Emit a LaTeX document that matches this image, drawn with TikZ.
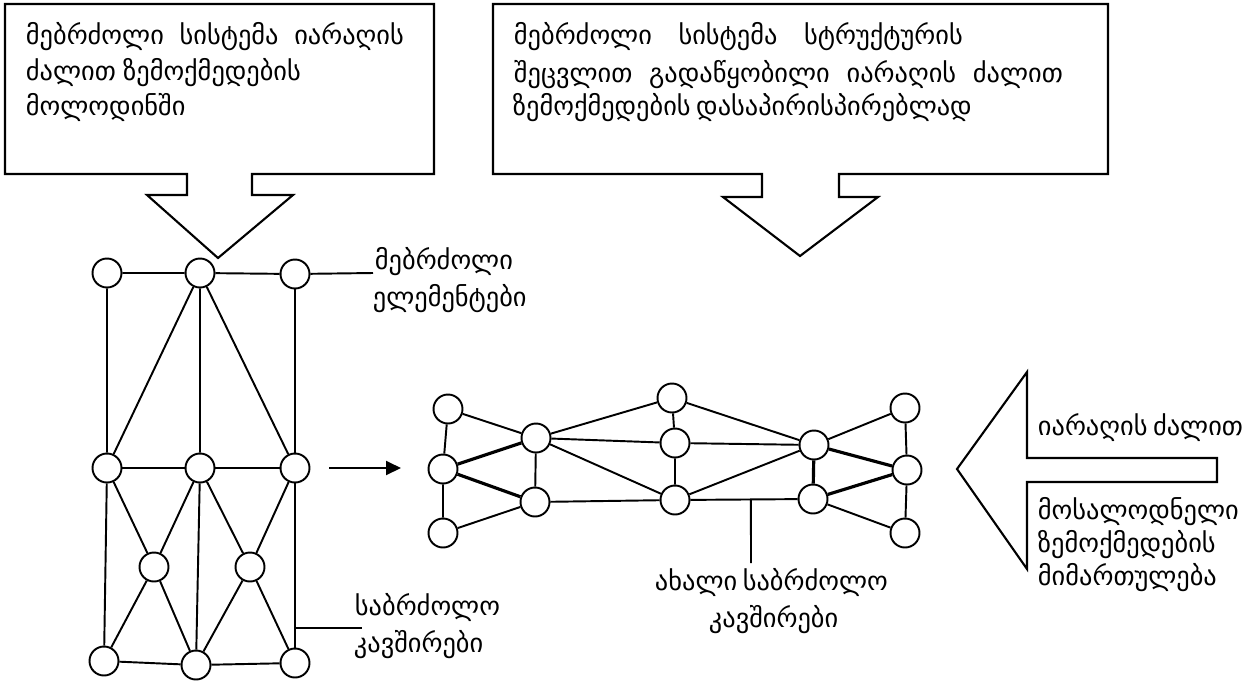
\documentclass[tikz,border=0pt]{standalone}
\usepackage{fontspec}
\setmainfont{DejaVu Sans}
\usetikzlibrary{
  calc, % For coordinates on links
  arrows.meta % For arrow tips
}

% line stretched to a given width
\newcommand{\jline}[2]{\makebox[#1][s]{#2}}

\begin{document}
\begin{tikzpicture}[
      x=0.02cm, y=-0.02cm, % one unit = one pixel of the layout
      line width=1.1pt, % Default line thickness
      >=Triangle, % Default arrow tip
      el/.style={circle, draw, fill=white, minimum size=0.58cm, inner sep=0pt}, % combat element
      heavy/.style={line width=1.8pt}, % reinforced link
      lbl/.style={font=\fontsize{15}{18}\selectfont, inner sep=0pt, anchor=west}, % text lines
      callout/.style={draw, line width=1.2pt, line join=miter}, % box arrows
    ]

    \useasboundingbox (0,0) rectangle (1254,680);

    % Box 1 with arrow down
    \draw[callout] (5,4) -- (434,4) -- (434,174) -- (252,174) -- (252,195) -- (293,195)
      -- (218,258) -- (147,195) -- (187,195) -- (187,174) -- (5,174) -- cycle;
    \node[lbl] (boxa1) at (25,37) {\jline{7.56cm}{მებრძოლი სისტემა იარაღის}};
    \node[lbl] (boxa2) at (25,73) {\jline{5.5cm}{ძალით ზემოქმედების}};
    \node[lbl] (boxa3) at (25,107) {მოლოდინში};

    % Box 2 with arrow down
    \draw[callout] (493,4) -- (1108,4) -- (1108,174) -- (839,174) -- (839,197) -- (878,197)
      -- (800,256) -- (723,197) -- (762,197) -- (762,174) -- (493,174) -- cycle;
    \node[lbl] (boxb1) at (513,37) {\jline{8.98cm}{მებრძოლი სისტემა სტრუქტურის}};
    \node[lbl] (boxb2) at (513,75) {\jline{10.98cm}{შეცვლით გადაწყობილი იარაღის ძალით}};
    \node[lbl] (boxb3) at (512,108) {\jline{8.96cm}{ზემოქმედების დასაპირისპირებლად}};

    % Arrow from the right
    \draw[callout] (1217,458) -- (1027,458) -- (1027,372) -- (957,469) -- (1027,569)
      -- (1027,482) -- (1217,482) -- cycle;
    \node[lbl] (forcea) at (1037,428) {\jline{4.1cm}{იარაღის ძალით}};
    \node[lbl] (forceb) at (1037,512) {მოსალოდნელი};
    \node[lbl] (forcec) at (1037,545) {ზემოქმედების};
    \node[lbl] (forced) at (1037,578) {მიმართულება};

    % Left system
    \node[el] (t1) at (107,273) {};
    \node[el] (t2) at (200,273) {};
    \node[el] (t3) at (295,274) {};
    \node[el] (m1) at (107,468) {};
    \node[el] (m2) at (200,468) {};
    \node[el] (m3) at (295,468) {};
    \node[el] (x1) at (154,567) {};
    \node[el] (x2) at (250,567) {};
    \node[el] (b1) at (104,661) {};
    \node[el] (b2) at (196,665) {};
    \node[el] (b3) at (295,663) {};

    \draw (t1) -- (t2) -- (t3);
    \draw (m1) -- (m2) -- (m3);
    \draw (b1) -- (b2) -- (b3);
    \draw (t1) -- (m1) -- (b1);
    \draw (t2) -- (m2) -- (b2);
    \draw (t3) -- (m3) -- (b3);
    \draw (m1) -- (t2) -- (m3);
    \draw (m1) -- (x1) -- (m2) -- (x2) -- (m3);
    \draw (b1) -- (x1) -- (b2) -- (x2) -- (b3);

    % Labels of left system
    \coordinate (elemtip) at (373,273);
    \draw (t3) -- (elemtip);
    \node[lbl] (elema) at (374,262) {მებრძოლი};
    \node[lbl] (elemb) at (372,299) {ელემენტები};

    \coordinate (linka) at (295,628);
    \coordinate (linkb) at (362,628);
    \draw (linka) -- (linkb);
    \node[lbl] (linkla) at (354,607) {საბრძოლო};
    \node[lbl] (linklb) at (353,645) {კავშირები};

    % Transition
    \coordinate (goa) at (329,468);
    \coordinate (gob) at (401,468);
    \draw[-{Triangle[length=0.3cm, width=0.28cm]}] (goa) -- (gob);

    % Right system
    \node[el] (ra1) at (448,409) {};
    \node[el] (ra2) at (443,469) {};
    \node[el] (ra3) at (443,533) {};
    \node[el] (rb1) at (536,438) {};
    \node[el] (rb2) at (535,502) {};
    \node[el] (rc0) at (672,398) {};
    \node[el] (rc1) at (675,443) {};
    \node[el] (rc2) at (675,500) {};
    \node[el] (rd1) at (814,445) {};
    \node[el] (rd2) at (813,499) {};
    \node[el] (re1) at (905,408) {};
    \node[el] (re2) at (907,470) {};
    \node[el] (re3) at (905,533) {};

    \draw (ra1) -- (ra2) -- (ra3);
    \draw (re1) -- (re2) -- (re3);
    \draw (ra1) -- (rb1) -- (rb2) -- (ra3);
    \draw[heavy] (rb1) -- (ra2) -- (rb2);
    \draw (rb1) -- (rc0) -- (rd1) -- (re1);
    \draw (rb1) -- (rc1) -- (rd1);
    \draw (rb1) -- (rc2) -- (rd1);
    \draw (rb2) -- (rc2) -- (rd2) -- (re3);
    \draw (rc0) -- (rc1) -- (rc2);
    \draw[heavy] (rd1) -- (rd2) -- (re2) -- (rd1);

    % Label of new links
    \coordinate (newa) at ($(rc2)!0.55!(rd2)$);
    \coordinate (newb) at (751,563);
    \draw (newa) -- (newb);
    \node[lbl] (newla) at (654,582) {\jline{4.24cm}{ახალი საბრძოლო}};
    \node[lbl] (newlb) at (708,620) {კავშირები};

  \end{tikzpicture}
\end{document}
